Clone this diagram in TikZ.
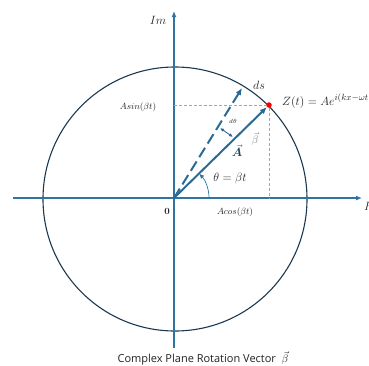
\documentclass[tikz,border=0pt]{standalone}
\usepackage{fontspec}
\usepackage{bm}
\newfontfamily\capfont{Open Sans}
\usetikzlibrary{arrows.meta}
\definecolor{axisblue}{HTML}{2F74A0}
\definecolor{circ}{HTML}{1C3850}
\definecolor{vecblue}{HTML}{2A6A94}
\definecolor{proj}{HTML}{7FB0D8}
\definecolor{labdark}{HTML}{222222}
\begin{document}
\begin{tikzpicture}[x=1pt,y=-1pt,
  axis/.style={draw=axisblue, line width=1.4pt, -{Latex[length=6pt,width=5pt]}},
  vec/.style={draw=vecblue, line width=2pt, -{Latex[length=7pt,width=6pt]}},
  projline/.style={draw=proj, line width=0.8pt, dash pattern=on 3pt off 2pt},
  lab/.style={inner sep=0pt, text=labdark}]
\useasboundingbox (0,0) rectangle (369,365);
\coordinate (O) at (174,198);
\coordinate (xs) at (13,198);
\coordinate (xe) at (362,198);
\coordinate (ys) at (174,348);
\coordinate (ye) at (174,11);
\node[circle, draw=circ, line width=1.1pt, minimum size=264pt, inner sep=0pt] (C) at (175,199) {};
\draw[axis] (xs) -- (xe);
\draw[axis] (ys) -- (ye);
\node[circle, fill=red, inner sep=0pt, minimum size=5.5pt] (Z) at (269,105) {};
\draw[projline] (O |- Z) -- (Z.west);
\draw[projline] (Z.south) -- (Z |- O);
\draw[vec] (O) -- (Z);
\coordinate (D) at (242,88);
\draw[vec, dash pattern=on 11pt off 5pt] (O) -- (D);
\coordinate (d1) at (220,128);
\coordinate (d2) at (233,137);
\draw[draw=vecblue, line width=0.9pt, {Latex[length=4pt,width=3.5pt]}-{Latex[length=4pt,width=3.5pt]}] (d1) -- (d2);
\draw[draw=axisblue, line width=0.7pt, -{Latex[length=5pt,width=4.5pt]}] (209,198) arc[start angle=0, end angle=-44, radius=35];
\node[lab, font=\fontsize{11.5}{13}\selectfont] (im) at (158,20) {$Im$};
\node[lab, font=\fontsize{11.5}{13}\selectfont, anchor=west] (re) at (364,206) {$Re$};
\node[lab, font=\fontsize{11.5}{13}\selectfont] (ds) at (259,85) {$ds$};
\node[lab, font=\fontsize{13}{15}\selectfont, anchor=west] (zl) at (282,101) {$Z(t) = Ae^{i(kx-\omega t}$};
\node[lab, font=\fontsize{9.5}{11}\selectfont] (asin) at (138,107) {$Asin(\beta t)$};
\node[lab, font=\fontsize{6}{7}\selectfont] (dth) at (233,121) {$d\theta$};
\node[inner sep=0pt, text=gray, font=\fontsize{11}{13}\selectfont] (beta) at (255,139) {$\vec{\beta}$};
\node[inner sep=0pt, text=vecblue!65!black, font=\fontsize{11.5}{13}\selectfont] (A) at (237,151) {$\vec{\bm{A}}$};
\node[lab, font=\fontsize{12}{14}\selectfont] (th) at (230,178) {$\theta = \beta t$};
\node[lab, font=\fontsize{9.5}{11}\selectfont] (zero) at (167,211) {\textbf{0}};
\node[lab, font=\fontsize{9.5}{11}\selectfont] (acos) at (235,212) {$Acos(\beta t)$};
\node[lab, anchor=base, font=\capfont\fontsize{11}{13}\selectfont] (cap) at (203,362.5) {Complex Plane Rotation Vector\ \ $\vec{\beta}$};
\end{tikzpicture}
\end{document}
